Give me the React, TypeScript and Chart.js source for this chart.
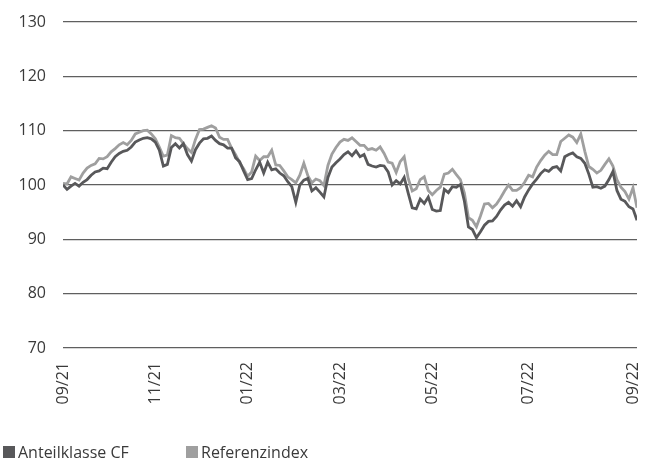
import React, { useEffect, useRef } from "react";
import { Chart, registerables } from "chart.js";

Chart.register(...registerables);

const seriesNames = ["Anteilklasse CF", "Referenzindex"];

const fundValues = [
  100.0, 99.2, 99.8, 100.3, 99.8, 100.5, 101.0, 101.8, 102.4, 102.6,
  103.1, 103.0, 104.2, 105.2, 105.8, 106.2, 106.4, 107.0, 107.9, 108.3,
  108.6, 108.7, 108.5, 107.9, 106.4, 103.5, 103.8, 106.9, 107.6, 106.8,
  107.6, 105.6, 104.4, 106.5, 107.7, 108.5, 108.6, 109.0, 108.2, 107.6,
  107.4, 106.8, 106.8, 105.0, 104.3, 102.6, 101.0, 101.2, 102.8, 104.2,
  102.2, 104.2, 102.8, 103.0, 102.2, 101.7, 100.6, 99.7, 96.8, 100.0,
  100.9, 101.2, 98.9, 99.5, 98.7, 97.8, 101.4, 103.3, 104.1, 104.8,
  105.6, 106.1, 105.4, 106.3, 105.2, 105.6, 103.8, 103.5, 103.3, 103.6,
  103.5, 102.4, 100.0, 100.8, 100.2, 101.4, 98.5, 95.8, 95.6, 97.4,
  96.6, 97.8, 95.5, 95.2, 95.3, 99.2, 98.6, 99.7, 99.6, 100.1,
  97.0, 92.3, 91.8, 90.3, 91.4, 92.6, 93.3, 93.4, 94.2, 95.4,
  96.3, 96.8, 96.1, 97.1, 96.0, 97.8, 99.1, 100.2, 101.1, 102.1,
  102.8, 102.5, 103.2, 103.4, 102.6, 105.2, 105.6, 105.9, 105.2, 104.9,
  104.0, 102.0, 99.6, 99.7, 99.4, 99.8, 101.0, 102.5, 99.0, 97.4,
  97.0, 96.0, 95.6, 93.5,
];

const indexValues = [
  100.3, 100.2, 101.5, 101.2, 100.9, 102.2, 103.1, 103.6, 103.9, 104.9,
  104.8, 105.2, 106.1, 106.7, 107.4, 107.8, 107.4, 108.2, 109.4, 109.7,
  110.0, 110.1, 109.4, 108.5, 107.0, 105.3, 105.5, 109.1, 108.7, 108.6,
  107.6, 106.7, 106.0, 108.4, 110.2, 110.3, 110.6, 110.9, 110.5, 108.8,
  108.4, 108.4, 106.8, 105.6, 104.1, 103.0, 101.6, 102.4, 105.3, 104.5,
  105.2, 105.2, 106.4, 103.7, 103.6, 102.6, 101.5, 101.0, 100.4, 101.8,
  104.0, 101.7, 100.4, 101.1, 100.8, 99.9, 103.6, 105.7, 106.9, 107.9,
  108.4, 108.2, 108.7, 108.0, 107.3, 107.3, 106.5, 106.7, 106.4, 107.0,
  105.8, 104.2, 104.0, 102.3, 104.3, 105.2, 101.2, 98.9, 99.3, 101.0,
  101.5, 99.0, 98.2, 99.0, 99.6, 102.0, 102.2, 102.9, 101.9, 101.0,
  98.5, 94.0, 93.5, 92.3, 94.3, 96.5, 96.6, 95.8, 96.5, 97.6,
  98.9, 100.0, 99.0, 99.0, 99.5, 100.5, 101.8, 101.5, 103.3, 104.5,
  105.5, 106.2, 105.6, 105.6, 108.0, 108.6, 109.2, 108.8, 107.8, 109.4,
  106.2, 103.4, 102.9, 102.2, 102.7, 103.8, 104.8, 103.5, 101.0, 99.6,
  98.8, 97.4, 99.5, 95.8,
];

const tickLabels = ["09/21", "11/21", "01/22", "03/22", "05/22", "07/22", "09/22"];
const tickIndex = [0, 23, 46, 69, 92, 116, 142];

const yMin = 70;
const yMax = 130;
const yStep = 10;

const DARK = "#58585a";
const LIGHT = "#9f9f9f";
const FONT = "'Open Sans', 'DejaVu Sans', sans-serif";

export default function App() {
  const canvasRef = useRef<HTMLCanvasElement | null>(null);

  useEffect(() => {
    document.body.style.margin = "0";
    const canvas = canvasRef.current;
    if (!canvas) return;
    const toPoints = (arr: number[]) => arr.map((v, i) => ({ x: i, y: v }));
    const chart = new Chart(canvas, {
      type: "line",
      data: {
        datasets: [
          {
            label: seriesNames[0],
            data: toPoints(fundValues),
            borderColor: DARK,
            backgroundColor: DARK,
            borderWidth: 2.8,
            pointRadius: 0,
            tension: 0,
          },
          {
            label: seriesNames[1],
            data: toPoints(indexValues),
            borderColor: LIGHT,
            backgroundColor: LIGHT,
            borderWidth: 2.8,
            pointRadius: 0,
            tension: 0,
          },
        ],
      },
      options: {
        animation: false,
        responsive: true,
        maintainAspectRatio: false,
        layout: { padding: { top: 22, right: 18, bottom: 0, left: 0 } },
        plugins: {
          legend: { display: false },
          tooltip: { enabled: false },
        },
        scales: {
          x: {
            type: "linear",
            min: 0,
            max: fundValues.length - 1,
            grid: { display: false },
            border: { display: false },
            afterBuildTicks: (axis: any) => {
              axis.ticks = tickIndex.map((v) => ({ value: v }));
            },
            afterFit: (axis: any) => {
              axis.height = 111;
              axis.paddingLeft = 0;
              axis.paddingRight = 0;
              axis.paddingTop = 0;
              axis.paddingBottom = 0;
            },
            ticks: {
              autoSkip: false,
              minRotation: 90,
              maxRotation: 90,
              padding: 6,
              color: "#3a3a3a",
              font: { family: FONT, size: 16 },
              callback: (value: any) => {
                const k = tickIndex.indexOf(Number(value));
                return k >= 0 ? tickLabels[k] : "";
              },
            },
          },
          y: {
            min: yMin,
            max: yMax,
            grid: { color: "#5f5f5f", lineWidth: 1.3, drawTicks: false },
            border: { display: false },
            afterFit: (axis: any) => {
              axis.width = 63;
              axis.paddingTop = 0;
              axis.paddingBottom = 0;
              axis.paddingLeft = 0;
              axis.paddingRight = 0;
            },
            ticks: {
              stepSize: yStep,
              padding: 17,
              color: "#3a3a3a",
              font: { family: FONT, size: 16 },
            },
          },
        },
      },
    });
    return () => chart.destroy();
  }, []);

  const legendItem = (name: string, color: string, left: number) => (
    <div
      key={name}
      style={{
        position: "absolute",
        left,
        top: 443,
        display: "flex",
        alignItems: "center",
        fontFamily: FONT,
        fontSize: 16,
        color: "#3a3a3a",
        lineHeight: "18px",
      }}
    >
      <span
        style={{
          display: "inline-block",
          width: 12,
          height: 12,
          background: color,
          marginRight: 3,
        }}
      />
      <span>{name}</span>
    </div>
  );

  return (
    <div style={{ position: "relative", width: 655, height: 459 }}>
      <canvas ref={canvasRef} />
      {legendItem(seriesNames[0], DARK, 3)}
      {legendItem(seriesNames[1], LIGHT, 186)}
    </div>
  );
}
